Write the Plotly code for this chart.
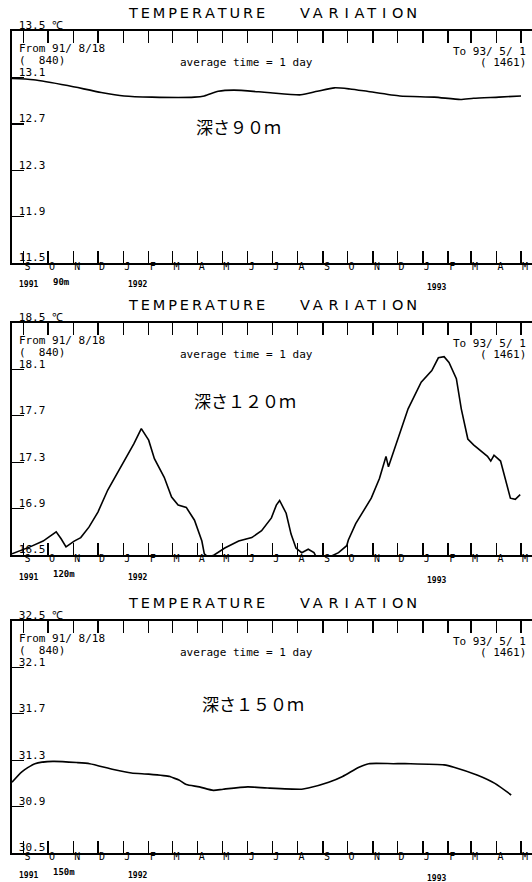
import plotly.graph_objects as go

# ---------------- data ----------------
dates_90 = ["1991-08-18", "1991-09-13", "1991-10-25", "1991-12-05", "1992-01-02", "1992-02-05",
            "1992-03-28", "1992-04-09", "1992-04-26", "1992-05-15", "1992-06-25", "1992-08-05",
            "1992-08-25", "1992-09-15", "1992-10-04", "1992-10-25", "1992-12-04", "1993-01-15",
            "1993-02-16", "1993-03-04", "1993-04-04", "1993-05-01"]
temp_90 = [13.09, 13.08, 13.03, 12.97, 12.94, 12.93,
           12.93, 12.94, 12.98, 12.99, 12.97, 12.95,
           12.98, 13.01, 13.00, 12.98, 12.94, 12.93,
           12.91, 12.92, 12.93, 12.94]

dates_120 = ["1991-08-18", "1991-08-22", "1991-09-09", "1991-09-25", "1991-10-11", "1991-10-17",
             "1991-10-23", "1991-11-02", "1991-11-10", "1991-11-20", "1991-12-01", "1991-12-13",
             "1991-12-25", "1992-01-07", "1992-01-14", "1992-01-23", "1992-02-01", "1992-02-08",
             "1992-02-20", "1992-02-29", "1992-03-08", "1992-03-18", "1992-03-28", "1992-04-06",
             "1992-04-09", "1992-04-14", "1992-04-21", "1992-05-04", "1992-05-21", "1992-06-06",
             "1992-06-18", "1992-06-30", "1992-07-06", "1992-07-10", "1992-07-18", "1992-07-24",
             "1992-07-30", "1992-08-06", "1992-08-14", "1992-08-21", "1992-08-24", "1992-09-08",
             "1992-09-20", "1992-09-30", "1992-10-02", "1992-10-11", "1992-10-21", "1992-10-30",
             "1992-11-09", "1992-11-17", "1992-11-20", "1992-11-27", "1992-12-10", "1992-12-14",
             "1992-12-30", "1993-01-12", "1993-01-20", "1993-01-27", "1993-02-02", "1993-02-11",
             "1993-02-17", "1993-02-25", "1993-03-04", "1993-03-21", "1993-03-25", "1993-03-29",
             "1993-04-06", "1993-04-14", "1993-04-18", "1993-04-24", "1993-04-30"]
temp_120 = [16.51, 16.52, 16.57, 16.62, 16.70, 16.64,
            16.57, 16.62, 16.65, 16.74, 16.87, 17.06,
            17.21, 17.36, 17.46, 17.59, 17.49, 17.33,
            17.17, 17.00, 16.93, 16.91, 16.80, 16.62,
            16.51, 16.48, 16.50, 16.56, 16.62, 16.65,
            16.71, 16.82, 16.93, 16.97, 16.86, 16.68,
            16.56, 16.52, 16.55, 16.52, 16.48, 16.48,
            16.52, 16.58, 16.63, 16.77, 16.88, 16.99,
            17.16, 17.35, 17.26, 17.41, 17.68, 17.76,
            17.99, 18.09, 18.20, 18.21, 18.16, 18.02,
            17.76, 17.50, 17.45, 17.35, 17.31, 17.36,
            17.31, 17.11, 16.99, 16.98, 17.02]

dates_150 = ["1991-08-18", "1991-08-30", "1991-09-15", "1991-10-07", "1991-11-05", "1991-11-21",
             "1991-12-20", "1992-01-11", "1992-02-01", "1992-02-27", "1992-03-01", "1992-03-09",
             "1992-03-18", "1992-04-03", "1992-04-20", "1992-05-02", "1992-06-01", "1992-06-25",
             "1992-08-06", "1992-08-14", "1992-09-08", "1992-09-25", "1992-10-15", "1992-10-27",
             "1992-11-26", "1992-12-17", "1993-01-27", "1993-02-08", "1993-03-09", "1993-03-30",
             "1993-04-19"]
temp_150 = [31.11, 31.20, 31.27, 31.29, 31.28, 31.27,
            31.22, 31.19, 31.18, 31.16, 31.15, 31.13,
            31.09, 31.07, 31.04, 31.05, 31.07, 31.06,
            31.05, 31.06, 31.11, 31.16, 31.24, 31.27,
            31.27, 31.27, 31.26, 31.24, 31.17, 31.10,
            31.00]

month_ticks = ["1991-09-01", "1991-10-01", "1991-11-01", "1991-12-01", "1992-01-01", "1992-02-01",
               "1992-03-01", "1992-04-01", "1992-05-01", "1992-06-01", "1992-07-01", "1992-08-01",
               "1992-09-01", "1992-10-01", "1992-11-01", "1992-12-01", "1993-01-01", "1993-02-01",
               "1993-03-01", "1993-04-01", "1993-05-01"]
month_labels = ["S", "O", "N", "D", "J", "F", "M", "A", "M", "J", "J",
                "A", "S", "O", "N", "D", "J", "F", "M", "A", "M"]

yticks_90 = [11.5, 11.9, 12.3, 12.7, 13.1, 13.5]
ylabels_90 = ["11.5", "11.9", "12.3", "12.7", "13.1", "13.5 ℃"]
yticks_120 = [16.5, 16.9, 17.3, 17.7, 18.1, 18.5]
ylabels_120 = ["16.5", "16.9", "17.3", "17.7", "18.1", "18.5 ℃"]
yticks_150 = [30.5, 30.9, 31.3, 31.7, 32.1, 32.5]
ylabels_150 = ["30.5", "30.9", "31.3", "31.7", "32.1", "32.5 ℃"]

depth_titles = ["深さ９０ｍ", "深さ１２０ｍ", "深さ１５０ｍ"]
depth_short = ["90m", "120m", "150m"]
TS = "\u2009"
title_word1 = TS.join("TEMPERATURE")
title_word2 = TS.join("VA") + TS + TS + "R" + TS + TS + "I" + TS + TS + "A" + TS + "T" + TS + TS + "I" + TS + TS + "O" + TS + "N"

# ---------------- layout helpers ----------------
W, H = 532, 882
MONO = "DejaVu Sans Mono"
panel_px = [(31, 263), (323, 555), (621, 853)]      # top / bottom pixel of each box
depth_pos = [(238, 95), (245, 77), (253, 82)]        # centre x, offset below top
x_range = ["1991-08-18", "1993-05-14 10:00"]
PLOT_L, PLOT_W = 12, 520                             # x of plot left edge, plot width


def fx(px):
    return (px - PLOT_L) / PLOT_W


fig = go.Figure()
series = [(dates_90, temp_90, "spline"), (dates_120, temp_120, "linear"), (dates_150, temp_150, "spline")]
yt = [(yticks_90, ylabels_90), (yticks_120, ylabels_120), (yticks_150, ylabels_150)]

annotations = []
layout = {}
for i in range(3):
    n = i + 1
    xa = "x" if n == 1 else f"x{n}"
    ya = "y" if n == 1 else f"y{n}"
    d, v, shape = series[i]
    fig.add_trace(go.Scatter(x=d, y=v, mode="lines", xaxis=xa, yaxis=ya,
                             line=dict(color="black", width=1.6, shape=shape, smoothing=0.6),
                             showlegend=False, hoverinfo="skip"))
    top, bot = panel_px[i]
    dom = [1 - bot / H, 1 - top / H]
    tv, tt = yt[i]
    layout[f"xaxis{'' if n == 1 else n}"] = dict(
        domain=[0, 1], anchor=ya, type="date", range=x_range, fixedrange=True,
        tickmode="array", tickvals=month_ticks, ticktext=month_labels,
        ticks="inside", ticklen=12, tickwidth=1.4, tickcolor="black",
        showline=True, linewidth=2, linecolor="black", mirror="ticks",
        showgrid=False, zeroline=False,
        tickfont=dict(family=MONO, size=10, color="black"),
        ticklabelshift=4, ticklabelstandoff=-7,
    )
    layout[f"yaxis{'' if n == 1 else n}"] = dict(
        domain=dom, anchor=xa, range=[tv[0], tv[-1]], fixedrange=True,
        tickmode="array", tickvals=tv, ticktext=tt,
        ticks="inside", ticklen=12, tickwidth=1.4, tickcolor="black",
        showline=True, linewidth=2, linecolor="black",
        showgrid=False, zeroline=False,
        ticklabelposition="inside top", ticklabeloverflow="allow", ticklabelstandoff=5,
        ticklabelshift=3,
        tickfont=dict(family=MONO, size=11, color="black"),
    )
    # right-hand ticks (no line)
    layout[f"yaxis{n + 3}"] = dict(
        overlaying=ya, side="right", anchor=xa, range=[tv[0], tv[-1]], fixedrange=True,
        tickmode="array", tickvals=tv[1:-1], ticks="inside", ticklen=11, tickwidth=1.4,
        tickcolor="black", showticklabels=False, showline=False, showgrid=False, zeroline=False,
    )
    yd = f"{ya} domain"
    xd = f"{xa} domain"
    tfont = dict(family="DejaVu Sans", size=14.5, color="black")
    annotations.append(dict(text=title_word1, xref="paper", yref=yd, x=fx(196), y=1,
                            yshift=18, xanchor="center", yanchor="middle", showarrow=False, font=tfont))
    annotations.append(dict(text=title_word2, xref="paper", yref=yd, x=fx(358), y=1,
                            yshift=18, xanchor="center", yanchor="middle", showarrow=False, font=tfont))
    sfont = dict(family=MONO, size=11, color="black")
    annotations.append(dict(text="From 91/ 8/18", xref=xd, yref=yd, x=0, y=1, xshift=5, yshift=-17,
                            xanchor="left", yanchor="middle", showarrow=False, font=sfont))
    annotations.append(dict(text="(  840)", xref=xd, yref=yd, x=0, y=1, xshift=5, yshift=-29,
                            xanchor="left", yanchor="middle", showarrow=False, font=sfont))
    annotations.append(dict(text="average time = 1 day", xref=xd, yref=yd, x=fx(246), y=1,
                            yshift=-31, xanchor="center", yanchor="middle", showarrow=False, font=sfont))
    annotations.append(dict(text="To 93/ 5/ 1", xref=xd, yref=yd, x=1, y=1, xshift=-4, yshift=-20,
                            xanchor="right", yanchor="middle", showarrow=False, font=sfont))
    annotations.append(dict(text="( 1461)", xref=xd, yref=yd, x=1, y=1, xshift=-4, yshift=-31,
                            xanchor="right", yanchor="middle", showarrow=False, font=sfont))
    cx, off = depth_pos[i]
    annotations.append(dict(text=depth_titles[i], xref=xd, yref=yd, x=fx(cx), y=1,
                            yshift=-off, xanchor="center", yanchor="middle", showarrow=False,
                            font=dict(family="Noto Sans CJK JP", size=17, color="black")))
    # year / depth notes under the axis
    annotations.append(dict(text="<b>1991</b>", xref=xa, yref=yd, x="1991-09-01", y=0, xshift=-6,
                            yshift=-22, xanchor="left", yanchor="middle", showarrow=False,
                            font=dict(family=MONO, size=8, color="black")))
    annotations.append(dict(text="<b>" + depth_short[i] + "</b>", xref=xa, yref=yd, x="1991-10-01", y=0,
                            xshift=3, yshift=-19, xanchor="left", yanchor="middle", showarrow=False,
                            font=dict(family=MONO, size=9, color="black")))
    annotations.append(dict(text="<b>1992</b>", xref=xa, yref=yd, x="1992-01-01", y=0, xshift=3,
                            yshift=-22, xanchor="left", yanchor="middle", showarrow=False,
                            font=dict(family=MONO, size=8, color="black")))
    annotations.append(dict(text="<b>1993</b>", xref=xa, yref=yd, x="1993-01-01", y=0, xshift=2,
                            yshift=-25, xanchor="left", yanchor="middle", showarrow=False,
                            font=dict(family=MONO, size=8, color="black")))

fig.update_layout(
    width=W, height=H, margin=dict(l=PLOT_L, r=0, t=0, b=0, pad=0, autoexpand=False),
    paper_bgcolor="white", plot_bgcolor="white", hovermode=False,
    showlegend=False, annotations=annotations, **layout,
)
# remove the default 8px page margin so the 532x882 figure fills the window exactly
fig.write_html("out.html", config={"displayModeBar": False, "staticPlot": True},
               post_script="document.body.style.margin='0px';")
